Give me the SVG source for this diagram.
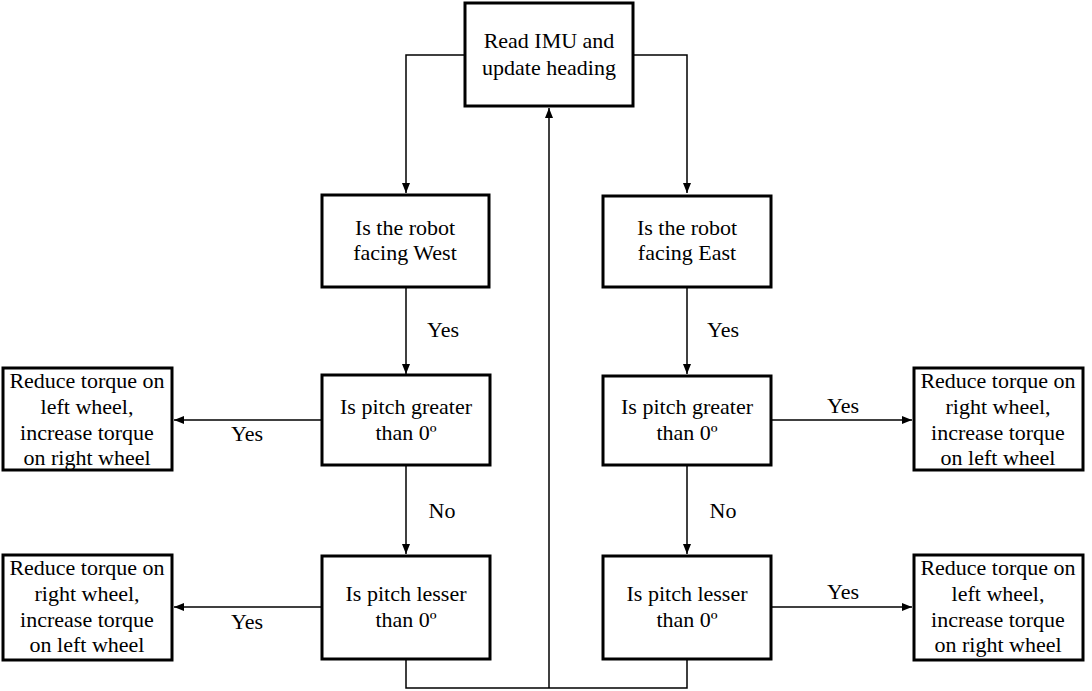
<svg xmlns="http://www.w3.org/2000/svg" width="1092" height="691" viewBox="0 0 1092 691">
<style>
.box{fill:#fff;stroke:#000;stroke-width:3}
.t{font-family:"Liberation Serif","Times New Roman",serif;font-size:22px;fill:#000;text-anchor:middle}
.c{fill:none;stroke:#000;stroke-width:1.5}
</style>
<defs>
<marker id="ah" viewBox="0 0 10 8" refX="10" refY="4" markerWidth="10" markerHeight="8" markerUnits="userSpaceOnUse" orient="auto">
<path d="M0,0 L10,4 L0,8 Z" fill="#000"/>
</marker>
</defs>
<rect width="1092" height="691" fill="#fff"/>
<g id="connectors">
<path class="c" d="M465,55 H406 V193" marker-end="url(#ah)"/>
<path class="c" d="M633,55 H687 V193" marker-end="url(#ah)"/>
<path class="c" d="M406,287 V374" marker-end="url(#ah)"/>
<path class="c" d="M687,287 V374" marker-end="url(#ah)"/>
<path class="c" d="M406,465 V554" marker-end="url(#ah)"/>
<path class="c" d="M687,465 V554" marker-end="url(#ah)"/>
<path class="c" d="M322,420 H174" marker-end="url(#ah)"/>
<path class="c" d="M322,607 H174" marker-end="url(#ah)"/>
<path class="c" d="M771,420 H912" marker-end="url(#ah)"/>
<path class="c" d="M771,607 H912" marker-end="url(#ah)"/>
<path class="c" d="M406,659 V688 H687 V659"/>
<path class="c" d="M549,688 V108" marker-end="url(#ah)"/>
<text class="t" x="443" y="337">Yes</text>
<text class="t" x="723" y="337">Yes</text>
<text class="t" x="442" y="518">No</text>
<text class="t" x="723" y="518">No</text>
<text class="t" x="247" y="441">Yes</text>
<text class="t" x="247" y="629">Yes</text>
<text class="t" x="843" y="413">Yes</text>
<text class="t" x="843" y="599">Yes</text>
</g>
<g id="read">
<rect class="box" x="465" y="3" width="168" height="103"/>
<text class="t" x="549" y="48">Read IMU and</text>
<text class="t" x="549" y="75">update heading</text>
</g>
<g id="west">
<rect class="box" x="322" y="195" width="167" height="92"/>
<text class="t" x="405" y="235">Is the robot</text>
<text class="t" x="405" y="260">facing West</text>
</g>
<g id="east">
<rect class="box" x="603" y="196" width="168" height="91"/>
<text class="t" x="687" y="235">Is the robot</text>
<text class="t" x="687" y="260">facing East</text>
</g>
<g id="west-greater">
<rect class="box" x="322" y="375" width="168" height="90"/>
<text class="t" x="406" y="414">Is pitch greater</text>
<text class="t" x="406" y="440">than 0º</text>
</g>
<g id="east-greater">
<rect class="box" x="603" y="376" width="168" height="89"/>
<text class="t" x="687" y="414">Is pitch greater</text>
<text class="t" x="687" y="440">than 0º</text>
</g>
<g id="west-lesser">
<rect class="box" x="322" y="556" width="168" height="103"/>
<text class="t" x="406" y="601">Is pitch lesser</text>
<text class="t" x="406" y="627">than 0º</text>
</g>
<g id="east-lesser">
<rect class="box" x="603" y="556" width="168" height="103"/>
<text class="t" x="687" y="601">Is pitch lesser</text>
<text class="t" x="687" y="627">than 0º</text>
</g>
<g id="left-top">
<rect class="box" x="3" y="368" width="169" height="102"/>
<text class="t" x="87" y="388">Reduce torque on</text>
<text class="t" x="87" y="414">left wheel,</text>
<text class="t" x="87" y="440">increase torque</text>
<text class="t" x="87" y="465">on right wheel</text>
</g>
<g id="left-bottom">
<rect class="box" x="3" y="555" width="169" height="105"/>
<text class="t" x="87" y="575">Reduce torque on</text>
<text class="t" x="87" y="601">right wheel,</text>
<text class="t" x="87" y="627">increase torque</text>
<text class="t" x="87" y="652">on left wheel</text>
</g>
<g id="right-top">
<rect class="box" x="914" y="368" width="169" height="102"/>
<text class="t" x="998" y="388">Reduce torque on</text>
<text class="t" x="998" y="414">right wheel,</text>
<text class="t" x="998" y="440">increase torque</text>
<text class="t" x="998" y="465">on left wheel</text>
</g>
<g id="right-bottom">
<rect class="box" x="914" y="555" width="169" height="105"/>
<text class="t" x="998" y="575">Reduce torque on</text>
<text class="t" x="998" y="601">left wheel,</text>
<text class="t" x="998" y="627">increase torque</text>
<text class="t" x="998" y="652">on right wheel</text>
</g>
</svg>
